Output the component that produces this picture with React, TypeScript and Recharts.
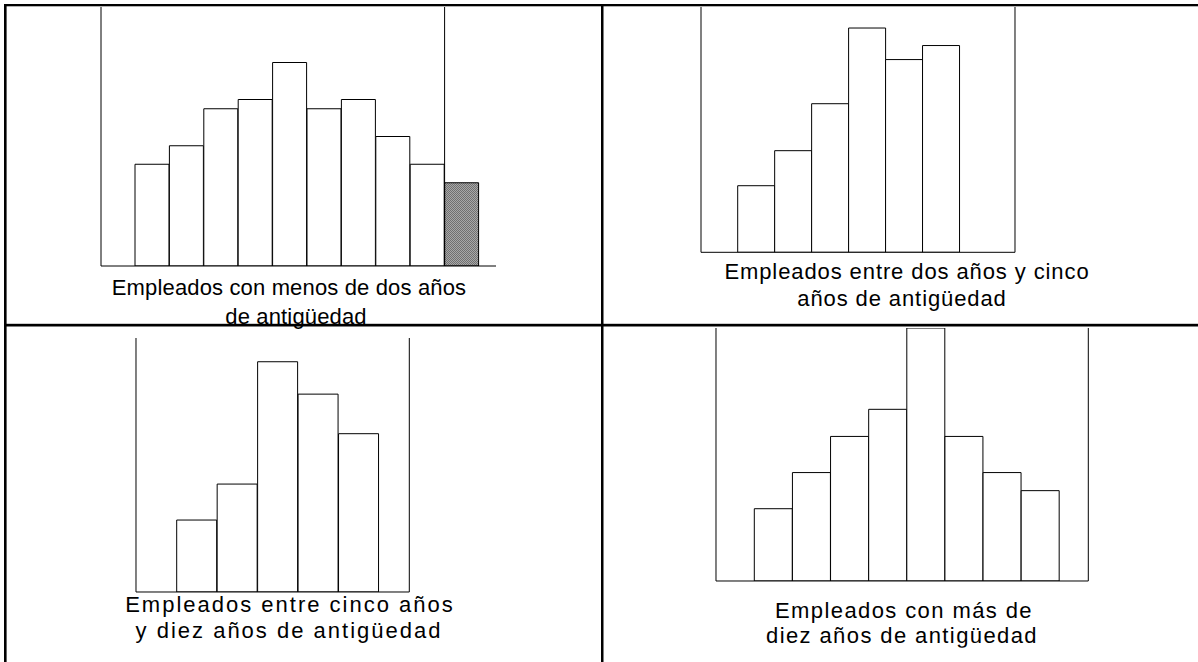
import { BarChart, Bar, XAxis, YAxis, Cell, ReferenceLine } from 'recharts'

// Histograma 1: menos de dos años (la última barra va sombreada)
const CAT_1 = ['1', '2', '3', '4', '5', '6', '7', '8', '9', '10']
const VAL_1 = [11, 13, 17, 18, 22, 17, 18, 14, 11, 9]
const MAX_1 = 28

// Histograma 2: entre dos y cinco años
const CAT_2 = ['1', '2', '3', '4', '5', '6']
const VAL_2 = [9.5, 14.5, 21.2, 32, 27.5, 29.5]
const MAX_2 = 35

// Histograma 3: entre cinco y diez años
const CAT_3 = ['1', '2', '3', '4', '5']
const VAL_3 = [10, 15, 32, 27.5, 22]
const MAX_3 = 35.3

// Histograma 4: más de diez años
const CAT_4 = ['1', '2', '3', '4', '5', '6', '7', '8']
const VAL_4 = [4, 6, 8, 9.5, 14, 8, 6, 5]
const MAX_4 = 14

const TITULO_1 = ['Empleados con menos de dos años', 'de antigüedad']
const TITULO_2 = ['Empleados entre dos años y cinco', 'años de antigüedad']
const TITULO_3 = ['Empleados entre cinco años', 'y diez años de antigüedad']
const TITULO_4 = ['Empleados con más de', 'diez años de antigüedad']

const FUENTE = '"Liberation Sans", Arial, sans-serif'
const M = 5

interface Caja { x: number; y: number; w: number; h: number }

function Histograma({ cats, vals, max, caja, pad, sombreada = -1, lineaDerecha }: {
  cats: string[]; vals: number[]; max: number; caja: Caja
  pad: { left: number; right: number }; sombreada?: number; lineaDerecha: 'eje' | 'banda'
}) {
  const datos = cats.map((c, i) => ({ c, v: vals[i] }))
  // los ejes ocupan 1px, así que el margen se reduce en 1 para no mover el área de trazado
  const der = lineaDerecha === 'eje' ? M - 1 : M
  return (
    <div style={{ position: 'absolute', left: caja.x - M, top: caja.y - M }}>
      <BarChart
        width={caja.w + 2 * M}
        height={caja.h + 2 * M}
        data={datos}
        margin={{ top: M, right: der, bottom: M - 1, left: M - 1 }}
        barCategoryGap={0}
      >
        <XAxis dataKey="c" tick={false} tickLine={false} axisLine={{ stroke: '#000' }} height={1} padding={pad} />
        <YAxis domain={[0, max]} tick={false} tickLine={false} axisLine={{ stroke: '#000' }} width={1} allowDataOverflow />
        {lineaDerecha === 'eje' && (
          <YAxis yAxisId="der" orientation="right" domain={[0, max]} tick={false} tickLine={false}
            axisLine={{ stroke: '#000' }} width={1} />
        )}
        <Bar dataKey="v" stroke="#000" strokeWidth={1} isAnimationActive={false}>
          {datos.map((_, i) => <Cell key={i} fill={i === sombreada ? 'url(#trama)' : '#fff'} />)}
        </Bar>
        {lineaDerecha === 'banda' && (
          <ReferenceLine x={cats[sombreada]} position="start" stroke="#000" />
        )}
      </BarChart>
    </div>
  )
}

function Titulo({ lineas, cx, base, paso, size, ls }: {
  lineas: string[]; cx: number[]; base: number; paso: number; size: number; ls: number
}) {
  return (
    <>
      {lineas.map((t, i) => (
        <text key={i} x={cx[i]} y={base + i * paso} textAnchor="middle" fontSize={size}
          letterSpacing={ls} fill="#000" fontFamily={FUENTE}>{t}</text>
      ))}
    </>
  )
}

export default function App() {
  return (
    <div style={{ position: 'absolute', left: 0, top: 0, width: 1198, height: 662, background: '#fff', overflow: 'hidden' }}>
      <svg width={0} height={0} style={{ position: 'absolute' }}>
        <defs>
          <pattern id="trama" width={2} height={2} patternUnits="userSpaceOnUse">
            <rect width={2} height={2} fill="#a8a8a8" />
            <rect width={1} height={1} fill="#707070" />
            <rect x={1} y={1} width={1} height={1} fill="#707070" />
          </pattern>
        </defs>
      </svg>

      <Histograma cats={CAT_1} vals={VAL_1} max={MAX_1} caja={{ x: 100.5, y: 7, w: 395, h: 259 }}
        pad={{ left: 34, right: 17 }} sombreada={9} lineaDerecha="banda" />
      <Histograma cats={CAT_2} vals={VAL_2} max={MAX_2} caja={{ x: 700.5, y: 7, w: 314, h: 245.3 }}
        pad={{ left: 36.7, right: 55.5 }} lineaDerecha="eje" />
      <Histograma cats={CAT_3} vals={VAL_3} max={MAX_3} caja={{ x: 136, y: 337.7, w: 273.3, h: 254 }}
        pad={{ left: 40.7, right: 30.3 }} lineaDerecha="eje" />
      <Histograma cats={CAT_4} vals={VAL_4} max={MAX_4} caja={{ x: 716, y: 328, w: 372.3, h: 253 }}
        pad={{ left: 38.3, right: 29 }} lineaDerecha="eje" />

      {/* Títulos y bordes de la tabla */}
      <svg width={1198} height={662} style={{ position: 'absolute', left: 0, top: 0, pointerEvents: 'none' }}>
        <defs>
          <clipPath id="celda2"><rect x={603} y={0} width={595} height={316} /></clipPath>
          <clipPath id="celda4"><rect x={603} y={326} width={595} height={321.7} /></clipPath>
        </defs>
        <Titulo lineas={TITULO_1} cx={[289, 296]} base={295} paso={29.3} size={22} ls={0.15} />
        <g clipPath="url(#celda2)">
          <Titulo lineas={TITULO_2} cx={[907, 902]} base={279} paso={27} size={22} ls={0.9} />
        </g>
        <Titulo lineas={TITULO_3} cx={[290, 289]} base={612} paso={26} size={22} ls={2} />
        <g clipPath="url(#celda4)">
          <Titulo lineas={TITULO_4} cx={[904, 902]} base={617.7} paso={25.6} size={22} ls={1.4} />
        </g>

        <rect x={4} y={4} width={1194} height={2.3} fill="#000" />
        <rect x={4} y={4} width={2.6} height={658} fill="#000" />
        <rect x={601} y={4} width={2.5} height={658} fill="#000" />
        <rect x={4} y={323.8} width={1194} height={2.7} fill="#000" />
      </svg>
    </div>
  )
}
